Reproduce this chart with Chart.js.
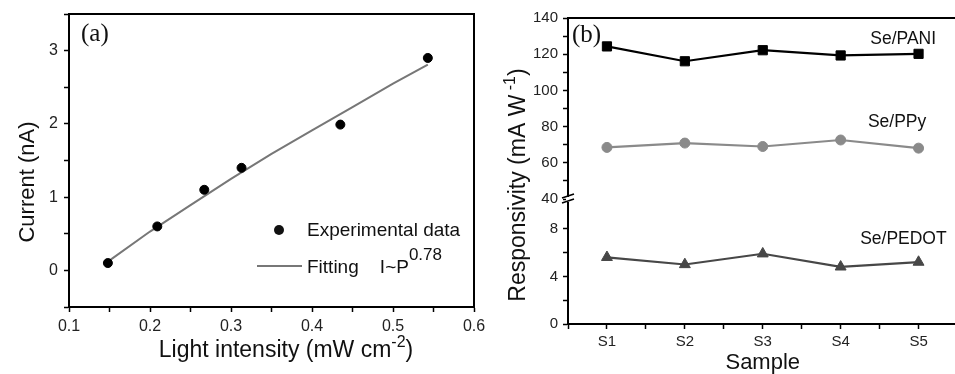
<!DOCTYPE html>
<html lang="en">
<head>
<meta charset="UTF-8">
<title>Photocurrent and responsivity</title>
<script src="https://cdn.jsdelivr.net/npm/chart.js"></script>
<style>
  html, body { margin: 0; padding: 0; background: #fff; overflow: hidden; }
  body { width: 955px; height: 374px; position: relative; }
  #panelA { position: absolute; left: 0; top: 0; }
  #panelB { position: absolute; left: 480px; top: 0; }
</style>
</head>
<body>
<canvas id="panelA" width="490" height="374"></canvas>
<canvas id="panelB" width="485" height="374"></canvas>
<script>
// (a) photocurrent vs light intensity
const intensity = [0.148, 0.209, 0.267, 0.313, 0.435, 0.543];
const current = [0.10, 0.60, 1.10, 1.40, 1.99, 2.90];
// fitted curve
const fitIntensity = [0.148, 0.2, 0.25, 0.3, 0.35, 0.4, 0.45, 0.5, 0.543];
const fitCurrent = [0.12, 0.53, 0.89, 1.25, 1.59, 1.91, 2.23, 2.55, 2.81];
const xLabelsA = [0.1, 0.2, 0.3, 0.4, 0.5, 0.6];
const yLabelsA = [0, 1, 2, 3];

// (b) responsivity per sample
const samples = ['S1', 'S2', 'S3', 'S4', 'S5'];
const pani = [124.3, 116.1, 122.2, 119.3, 120.2];
const ppy = [68.5, 70.9, 69.0, 72.6, 68.1];
const pedot = [5.6, 5.0, 5.9, 4.8, 5.2];
const seriesNames = ['Se/PANI', 'Se/PPy', 'Se/PEDOT'];
const upperLabels = [40, 60, 80, 100, 120, 140];
const lowerLabels = [0, 4, 8];

const SANS = "'Liberation Sans', Arial, sans-serif";
const SERIF = "'Liberation Serif', 'Times New Roman', serif";
Chart.defaults.font.family = SANS;
Chart.defaults.color = '#222';

function near(list, v) {
  return list.find(t => Math.abs(t - v) < 1e-6);
}

// fixes the size of an axis box so the plot area lands where it should
function fixBox(w, h) {
  return function (scale) {
    if (w) scale.width = w;
    if (h) scale.height = h;
    scale.paddingLeft = 0; scale.paddingRight = 0;
    scale.paddingTop = 0; scale.paddingBottom = 0;
  };
}

// text with superscript parts: [text, size, raise]
function richText(ctx, parts, x, y, align) {
  let w = 0;
  parts.forEach(p => { ctx.font = p[1] + 'px ' + SANS; w += ctx.measureText(p[0]).width; });
  let cx = align === 'center' ? x - w / 2 : x;
  ctx.textAlign = 'left';
  ctx.textBaseline = 'alphabetic';
  parts.forEach(p => {
    ctx.font = p[1] + 'px ' + SANS;
    ctx.fillText(p[0], cx, y - (p[2] || 0));
    cx += ctx.measureText(p[0]).width;
  });
}

function axisStyle(extra) {
  return Object.assign({
    grid: { drawOnChartArea: false, drawTicks: true, tickLength: 5, tickWidth: 1.5, tickColor: '#000' },
    border: { display: true, color: '#000', width: 2 }
  }, extra);
}

// ---------- panel (a) ----------
const decorA = {
  id: 'decorA',
  afterDraw(chart) {
    const ctx = chart.ctx, a = chart.chartArea;
    ctx.save();
    ctx.strokeStyle = '#000';
    ctx.lineWidth = 2;
    ctx.strokeRect(a.left, a.top, a.right - a.left, a.bottom - a.top);
    ctx.fillStyle = '#111';
    ctx.font = '25px ' + SERIF;
    ctx.textAlign = 'left';
    ctx.textBaseline = 'middle';
    ctx.fillText('(a)', a.left + 12, a.top + 20);
    // legend
    ctx.beginPath();
    ctx.arc(279, 230, 5, 0, Math.PI * 2);
    ctx.fill();
    ctx.font = '19px ' + SANS;
    ctx.fillText('Experimental data', 307, 231);
    ctx.strokeStyle = '#777';
    ctx.beginPath();
    ctx.moveTo(257, 266);
    ctx.lineTo(302, 266);
    ctx.stroke();
    richText(ctx, [['Fitting    I~P', 19, 0], ['0.78', 17, 13]], 307, 273, 'left');
    // axis titles
    ctx.fillStyle = '#111';
    richText(ctx, [['Light intensity (mW cm', 23, 0], ['-2', 16, 10], [')', 23, 0]], 286, 357, 'center');
    ctx.translate(26, 182);
    ctx.rotate(-Math.PI / 2);
    richText(ctx, [['Current (nA)', 22, 0]], 0, 8, 'center');
    ctx.restore();
  }
};

new Chart(document.getElementById('panelA'), {
  type: 'scatter',
  data: {
    datasets: [
      {
        label: 'Experimental data',
        data: intensity.map((x, i) => ({ x: x, y: current[i] })),
        backgroundColor: '#000', borderColor: '#000',
        pointRadius: 4.5, pointBorderWidth: 1
      },
      {
        label: 'Fitting',
        data: fitIntensity.map((x, i) => ({ x: x, y: fitCurrent[i] })),
        showLine: true, borderColor: '#777', borderWidth: 2,
        pointRadius: 0, tension: 0
      }
    ]
  },
  options: {
    responsive: false, animation: false, devicePixelRatio: 1,
    layout: { padding: { top: 14, right: 16, left: 0, bottom: 0 } },
    plugins: { legend: { display: false }, tooltip: { enabled: false } },
    scales: {
      x: axisStyle({
        type: 'linear', min: 0.1, max: 0.6,
        ticks: {
          stepSize: 0.05, autoSkip: false, maxRotation: 0, padding: 5,
          font: { size: 16 },
          callback: v => { const t = near(xLabelsA, v); return t === undefined ? '' : t.toFixed(1); }
        },
        afterFit: fixBox(0, 67)
      }),
      y: axisStyle({
        type: 'linear', min: -0.5, max: 3.5,
        ticks: {
          stepSize: 0.5, autoSkip: false, padding: 6,
          font: { size: 16 },
          callback: v => { const t = near(yLabelsA, v); return t === undefined ? '' : String(t); }
        },
        afterFit: fixBox(69, 0)
      })
    }
  },
  plugins: [decorA]
});

// ---------- panel (b) ----------
const decorB = {
  id: 'decorB',
  afterDraw(chart) {
    const ctx = chart.ctx, a = chart.chartArea;
    const up = chart.scales.yTop, low = chart.scales.yLow, x = chart.scales.x;
    ctx.save();
    ctx.strokeStyle = '#000';
    ctx.lineWidth = 2;
    ctx.beginPath();
    ctx.moveTo(a.left, a.top);
    ctx.lineTo(a.right, a.top);
    ctx.lineTo(a.right, a.bottom);
    ctx.stroke();
    // axis break
    const yb = up.bottom;
    ctx.fillStyle = '#fff';
    ctx.fillRect(a.left - 2, yb - 2, 4, 5);
    ctx.lineWidth = 1.6;
    ctx.beginPath();
    ctx.moveTo(a.left - 6, yb - 1); ctx.lineTo(a.left + 6, yb - 5);
    ctx.moveTo(a.left - 6, yb + 4); ctx.lineTo(a.left + 6, yb);
    ctx.stroke();
    // panel letter
    ctx.fillStyle = '#111';
    ctx.font = '25px ' + SERIF;
    ctx.textAlign = 'left';
    ctx.textBaseline = 'middle';
    ctx.fillText('(b)', a.left + 4, a.top + 17);
    // series names
    ctx.font = '17.5px ' + SANS;
    ctx.fillText(seriesNames[0], x.getPixelForValue(4.38), up.getPixelForValue(128.2));
    ctx.fillText(seriesNames[1], x.getPixelForValue(4.35), up.getPixelForValue(82.2));
    ctx.fillText(seriesNames[2], x.getPixelForValue(4.25), low.getPixelForValue(7.1));
    // y title
    ctx.translate(37, 185);
    ctx.rotate(-Math.PI / 2);
    richText(ctx, [['Responsivity (mA W', 23, 0], [' -1', 16, 10], [')', 23, 0]], 0, 8, 'center');
    ctx.restore();
  }
};

const asPoints = vals => vals.map((v, i) => ({ x: i + 1, y: v }));

new Chart(document.getElementById('panelB'), {
  type: 'line',
  data: {
    datasets: [
      {
        label: seriesNames[0], data: asPoints(pani), yAxisID: 'yTop',
        borderColor: '#000', backgroundColor: '#000', borderWidth: 2.2,
        pointStyle: 'rect', pointRadius: 6.5, pointBorderWidth: 1
      },
      {
        label: seriesNames[1], data: asPoints(ppy), yAxisID: 'yTop',
        borderColor: '#8a8a8a', backgroundColor: '#8a8a8a', borderWidth: 2.2,
        pointStyle: 'circle', pointRadius: 5, pointBorderWidth: 1
      },
      {
        label: seriesNames[2], data: asPoints(pedot), yAxisID: 'yLow',
        borderColor: '#474747', backgroundColor: '#474747', borderWidth: 2.2,
        pointStyle: 'triangle', pointRadius: 6.3, pointBorderWidth: 1
      }
    ]
  },
  options: {
    responsive: false, animation: false, devicePixelRatio: 1,
    layout: { padding: { top: 18, right: 4, left: 0, bottom: 0 } },
    plugins: { legend: { display: false }, tooltip: { enabled: false } },
    scales: {
      x: axisStyle({
        type: 'linear', min: 0.5, max: 5.5,
        ticks: {
          stepSize: 0.5, autoSkip: false, maxRotation: 0, padding: 4,
          font: { size: 15 },
          callback: v => Math.abs(v - Math.round(v)) < 1e-6 ? (samples[Math.round(v) - 1] || '') : ''
        },
        title: {
          display: true, text: 'Sample', color: '#111',
          font: { size: 22, lineHeight: 1 }, padding: { top: 0, bottom: 0 }
        },
        afterFit: fixBox(0, 50)
      }),
      // stacked axes: the first one listed is placed at the bottom
      yLow: axisStyle({
        type: 'linear', position: 'left', stack: 'resp', stackWeight: 125,
        min: 0, max: 10.5,
        ticks: {
          stepSize: 2, includeBounds: false, autoSkip: false, padding: 5, font: { size: 15 },
          callback: v => near(lowerLabels, v) === undefined ? '' : String(v)
        },
        grid: {
          drawOnChartArea: false, tickLength: 5, tickWidth: 1.5,
          tickColor: c => (c.tick && c.tick.value > 9 ? 'rgba(0,0,0,0)' : '#000')
        },
        afterFit: fixBox(88, 0)
      }),
      yTop: axisStyle({
        type: 'linear', position: 'left', stack: 'resp', stackWeight: 181,
        min: 40, max: 140,
        ticks: {
          stepSize: 10, autoSkip: false, padding: 5, font: { size: 15 },
          callback: v => near(upperLabels, v) === undefined ? '' : String(v)
        },
        afterFit: fixBox(88, 0)
      })
    }
  },
  plugins: [decorB]
});
</script>
</body>
</html>
